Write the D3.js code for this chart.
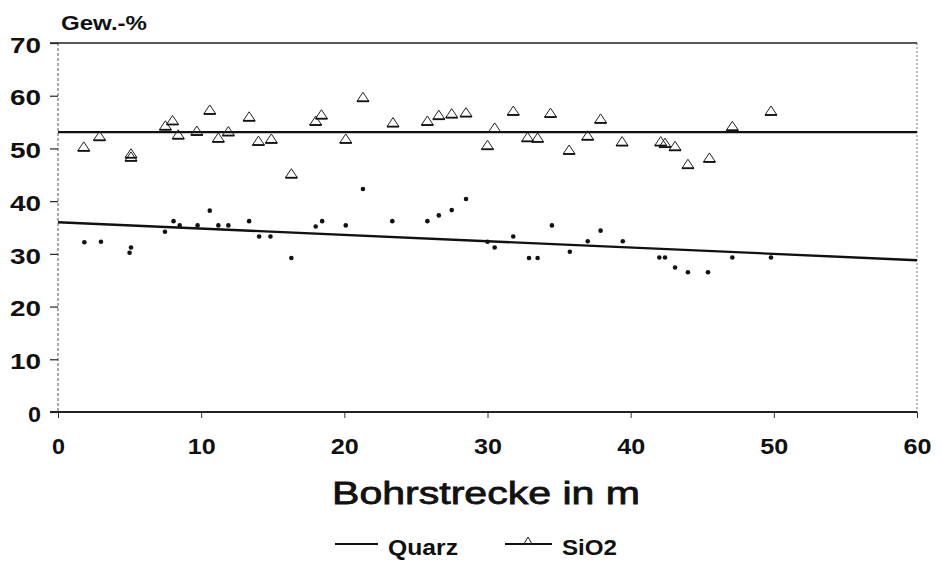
<!DOCTYPE html>
<html>
<head>
<meta charset="utf-8">
<script src="https://cdn.jsdelivr.net/npm/d3@7"></script>
<style>
  html, body { margin: 0; padding: 0; background: #fff; }
  svg { display: block; }
  text { font-family: "Liberation Sans", Arial, sans-serif; fill: #111; }
</style>
</head>
<body>
<svg id="chart" width="942" height="562"></svg>
<script>
// Bohrstrecke (m) and SiO2 content (Gew.-%)
const sio2Depth = [1.8, 2.9, 5.1, 5.1, 7.5, 8.0, 8.4, 9.7, 10.6, 11.2, 11.9, 13.35, 14.0, 14.9, 16.3,
  18.0, 18.4, 20.1, 21.3, 23.4, 25.8, 26.6, 27.5, 28.5, 30.0, 30.5, 31.8, 32.8, 33.5, 34.4, 35.7,
  37.0, 37.9, 39.4, 42.1, 42.4, 43.1, 44.0, 45.5, 47.1, 49.8];
const sio2Value = [50.3, 52.3, 48.4, 49.0, 54.3, 55.3, 52.6, 53.3, 57.3, 52.0, 53.2, 56.0, 51.4, 51.8, 45.2,
  55.2, 56.4, 51.8, 59.7, 54.9, 55.2, 56.3, 56.6, 56.8, 50.6, 53.9, 57.1, 52.1, 52.0, 56.7, 49.7,
  52.4, 55.6, 51.3, 51.3, 51.0, 50.4, 47.0, 48.2, 54.2, 57.1];

// Bohrstrecke (m) and Quarz content (Gew.-%)
const quarzDepth = [1.84, 3.0, 5.1, 5.0, 7.47, 8.07, 8.5, 9.75, 10.6, 11.2, 11.9, 13.35, 14.05, 14.84, 16.3,
  18.0, 18.45, 20.1, 21.3, 23.35, 25.8, 26.6, 27.5, 28.5, 30.0, 30.5, 31.8, 32.9, 33.5, 34.5, 35.75,
  37.0, 37.9, 39.45, 42.0, 42.4, 43.1, 44.0, 45.4, 47.1, 49.8];
const quarzValue = [32.2, 32.3, 31.2, 30.2, 34.2, 36.2, 35.4, 35.4, 38.2, 35.4, 35.4, 36.2, 33.3, 33.3, 29.2,
  35.2, 36.2, 35.4, 42.3, 36.2, 36.2, 37.3, 38.3, 40.4, 32.3, 31.2, 33.3, 29.2, 29.2, 35.4, 30.4,
  32.4, 34.4, 32.4, 29.3, 29.3, 27.4, 26.5, 26.5, 29.3, 29.3];

// Fitted lines: Quarz trend (start/end over the x range) and SiO2 level
const trendX = [0, 60];
const quarzTrend = [36.0, 28.8];
const sio2Level = [53.1, 53.1];

// Axis ticks and labels
const xTicks = [0, 10, 20, 30, 40, 50, 60];
const yTicks = [0, 10, 20, 30, 40, 50, 60, 70];
const yUnit = "Gew.-%";
const xTitle = "Bohrstrecke in m";
const legendNames = ["Quarz", "SiO2"];

const svg = d3.select("#chart");
const x = d3.scaleLinear().domain([0, 60]).range([58, 917]);
const y = d3.scaleLinear().domain([0, 70]).range([412, 43]);

// frame: dashed sides, solid top
svg.append("line").attr("x1", x(0)).attr("x2", x(0)).attr("y1", y(70)).attr("y2", y(0))
  .attr("stroke", "#555").attr("stroke-width", 1).attr("stroke-dasharray", "3,2");
svg.append("line").attr("x1", x(60)).attr("x2", x(60)).attr("y1", y(70)).attr("y2", y(0))
  .attr("stroke", "#777").attr("stroke-width", 1).attr("stroke-dasharray", "2,2");
svg.append("line").attr("x1", x(0) - 8).attr("x2", x(60)).attr("y1", y(70)).attr("y2", y(70))
  .attr("stroke", "#222").attr("stroke-width", 1.5);

// y axis
const yAxis = svg.append("g").attr("transform", `translate(${x(0)},0)`)
  .call(d3.axisLeft(y).tickValues(yTicks).tickSize(8).tickPadding(9).tickFormat(d3.format("d")));
yAxis.select(".domain").remove();
yAxis.selectAll(".tick line").attr("stroke", "#222").attr("stroke-width", 1.2);
yAxis.selectAll(".tick text")
  .attr("font-family", "Liberation Sans, Arial, sans-serif")
  .attr("font-size", 22).attr("font-weight", "bold").attr("fill", "#111")
  .attr("dy", "0.42em")
  .attr("textLength", d => d < 10 ? 13 : 31).attr("lengthAdjust", "spacingAndGlyphs");

// x axis
const xAxis = svg.append("g").attr("transform", `translate(0,${y(0)})`)
  .call(d3.axisBottom(x).tickValues(xTicks).tickSize(6).tickPadding(20).tickFormat(d3.format("d")));
xAxis.select(".domain").remove();
xAxis.selectAll(".tick line").attr("stroke", "#333").attr("stroke-width", 1);
xAxis.selectAll(".tick text")
  .attr("font-family", "Liberation Sans, Arial, sans-serif")
  .attr("font-size", 22).attr("font-weight", "bold").attr("fill", "#111")
  .attr("textLength", d => d < 10 ? 13 : 28).attr("lengthAdjust", "spacingAndGlyphs");
svg.append("line").attr("x1", x(0) - 8).attr("x2", x(60)).attr("y1", y(0)).attr("y2", y(0))
  .attr("stroke", "#222").attr("stroke-width", 2);

// unit label above the y axis
svg.append("text").attr("x", 61).attr("y", 30)
  .attr("font-size", 21).attr("font-weight", "bold")
  .attr("textLength", 86).attr("lengthAdjust", "spacingAndGlyphs").text(yUnit);

// x axis title (regular face, slightly thickened)
svg.append("text").attr("x", 332).attr("y", 504)
  .attr("font-size", 32).attr("stroke", "#111").attr("stroke-width", 0.8)
  .attr("textLength", 308).attr("lengthAdjust", "spacingAndGlyphs").text(xTitle);

// fitted lines
const line = d3.line().x(d => x(d[0])).y(d => y(d[1]));
svg.append("path").datum(d3.zip(trendX, sio2Level)).attr("d", line)
  .attr("fill", "none").attr("stroke", "#111").attr("stroke-width", 2.4);
svg.append("path").datum(d3.zip(trendX, quarzTrend)).attr("d", line)
  .attr("fill", "none").attr("stroke", "#111").attr("stroke-width", 2.4);

// SiO2 triangles
const tri = "M-6,4 L0,-5 L6,4 Z";
const sio2 = svg.append("g");
const sio2Pts = d3.zip(sio2Depth, sio2Value);
sio2.selectAll("path.tri").data(sio2Pts).join("path").attr("class", "tri")
  .attr("transform", d => `translate(${x(d[0])},${y(d[1])})`)
  .attr("d", tri).attr("fill", "none").attr("stroke", "#222").attr("stroke-width", 1);
sio2.selectAll("line.base").data(sio2Pts).join("line").attr("class", "base")
  .attr("x1", d => x(d[0]) - 6).attr("x2", d => x(d[0]) + 6)
  .attr("y1", d => y(d[1]) + 4).attr("y2", d => y(d[1]) + 4)
  .attr("stroke", "#111").attr("stroke-width", 1.8);

// Quarz dots
svg.append("g").selectAll("circle").data(d3.zip(quarzDepth, quarzValue)).join("circle")
  .attr("cx", d => x(d[0])).attr("cy", d => y(d[1])).attr("r", 2.3)
  .attr("fill", "#111");

// legend
const lg = svg.append("g");
lg.append("line").attr("x1", 335).attr("x2", 378).attr("y1", 544).attr("y2", 544)
  .attr("stroke", "#111").attr("stroke-width", 2);
lg.append("text").attr("x", 388).attr("y", 555).attr("font-size", 22).attr("font-weight", "bold")
  .attr("textLength", 70).attr("lengthAdjust", "spacingAndGlyphs").text(legendNames[0]);
lg.append("line").attr("x1", 505).attr("x2", 552).attr("y1", 544).attr("y2", 544)
  .attr("stroke", "#111").attr("stroke-width", 2);
lg.append("path").attr("transform", "translate(528,541)").attr("d", "M-4,3 L0,-4 L4,3 Z")
  .attr("fill", "none").attr("stroke", "#222").attr("stroke-width", 1);
lg.append("text").attr("x", 562).attr("y", 555).attr("font-size", 22).attr("font-weight", "bold")
  .attr("textLength", 55).attr("lengthAdjust", "spacingAndGlyphs").text(legendNames[1]);
</script>
</body>
</html>
